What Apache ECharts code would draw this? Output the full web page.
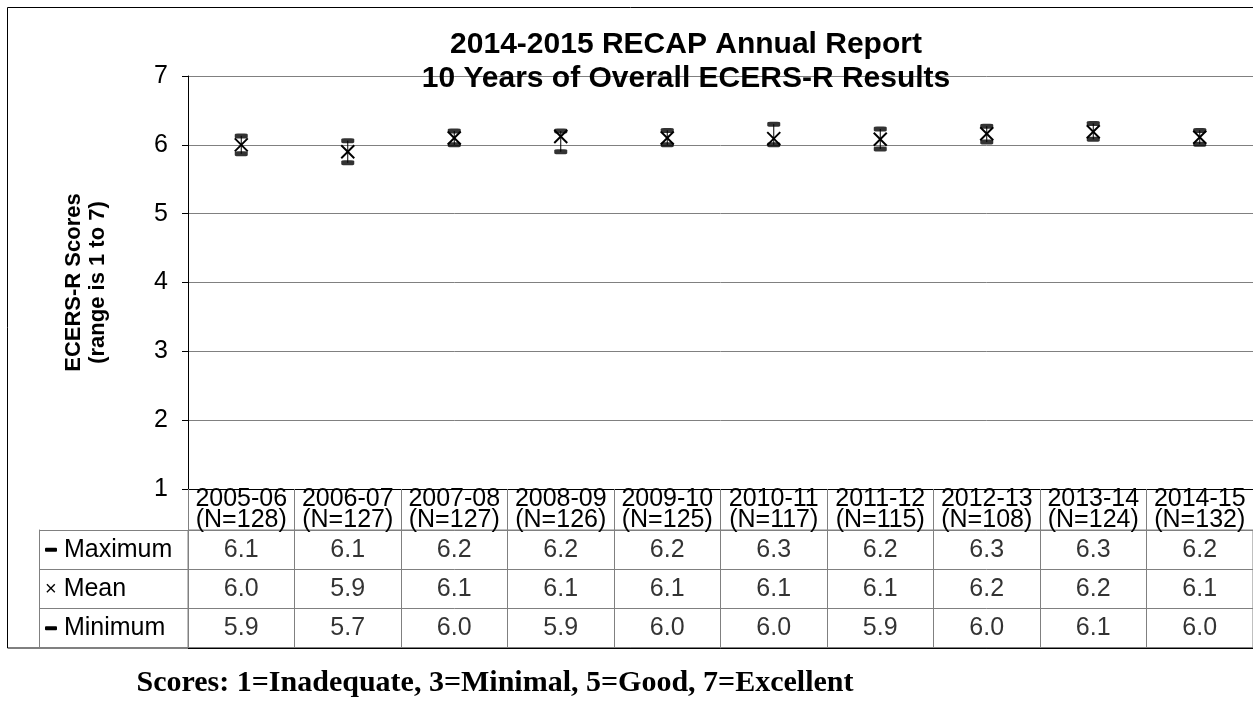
<!DOCTYPE html>
<html>
<head>
<meta charset="utf-8">
<script src="https://cdn.jsdelivr.net/npm/echarts@6/dist/echarts.min.js"></script>
<style>
  html, body { margin: 0; padding: 0; background: #fff; }
  #chart { width: 1253px; height: 709px; }
</style>
</head>
<body>
<div id="chart"></div>
<script>
// school years and sample sizes
const years = ['2005-06', '2006-07', '2007-08', '2008-09', '2009-10', '2010-11', '2011-12', '2012-13', '2013-14', '2014-15']
const nCounts = [128, 127, 127, 126, 125, 117, 115, 108, 124, 132]
// overall ECERS-R scores (table shows them to one decimal)
const maxScores = [6.13, 6.06, 6.2, 6.2, 6.21, 6.3, 6.23, 6.27, 6.31, 6.21]
const meanScores = [6.0, 5.9, 6.1, 6.12, 6.1, 6.09, 6.08, 6.16, 6.19, 6.11]
const minScores = [5.87, 5.74, 6.0, 5.9, 6.0, 6.0, 5.94, 6.04, 6.08, 6.01]
const rowNames = ['Maximum', 'Mean', 'Minimum']
const yTicks = [1, 7, 1] // min, max, step

const FONT = 'Liberation Sans'
const tableLine = '#808080'
const TXT = 25

const chart = echarts.init(document.getElementById('chart'))

const xLabels = years.map((y, i) => y + '\n(N=' + nCounts[i] + ')')
const rowValues = [maxScores, meanScores, minScores]
const tableData = []
rowValues.forEach((vals, r) => {
  vals.forEach((v, i) => {
    tableData.push([i, r, v.toFixed(1)])
  })
})

const option = {
  animation: false,
  backgroundColor: '#fff',
  textStyle: { fontFamily: FONT, color: '#000' },
  grid: [
    { left: 188, right: 0, top: 76, height: 413 },
    {
      left: 188, right: 0, top: 530, height: 118,
      show: true, borderColor: tableLine, borderWidth: 1, backgroundColor: 'transparent'
    }
  ],
  xAxis: [
    {
      gridIndex: 0,
      type: 'category',
      data: xLabels,
      boundaryGap: true,
      axisLine: { lineStyle: { color: '#000', width: 1 } },
      axisTick: { show: true, length: 41, lineStyle: { color: tableLine } },
      axisLabel: {
        interval: 0, margin: 0, fontSize: TXT, lineHeight: 21,
        color: '#000', fontFamily: FONT
      },
      splitLine: { show: false }
    },
    {
      gridIndex: 1,
      type: 'category',
      data: years,
      boundaryGap: true,
      axisLine: { show: true, lineStyle: { color: '#000' } },
      axisTick: { show: false },
      axisLabel: { show: false },
      splitLine: { show: true, interval: 0, lineStyle: { color: tableLine } }
    }
  ],
  yAxis: [
    {
      gridIndex: 0,
      type: 'value',
      min: yTicks[0],
      max: yTicks[1],
      interval: yTicks[2],
      name: 'ECERS-R Scores\n(range is 1 to 7)',
      nameLocation: 'middle',
      nameGap: 78,
      nameRotate: 90,
      nameTextStyle: { fontSize: 22, fontWeight: 'bold', lineHeight: 24, color: '#000', fontFamily: FONT },
      axisLine: { show: true, lineStyle: { color: '#000' } },
      axisTick: { show: true, length: 6, lineStyle: { color: '#000' } },
      axisLabel: { fontSize: TXT, margin: 20, color: '#000', fontFamily: FONT },
      splitLine: { show: true, lineStyle: { color: '#808080', width: 1 } }
    },
    {
      gridIndex: 1,
      type: 'category',
      data: rowNames,
      inverse: true,
      boundaryGap: true,
      axisLine: { show: true, lineStyle: { color: tableLine } },
      axisTick: { show: true, length: 149, lineStyle: { color: tableLine } },
      axisLabel: {
        margin: 143,
        align: 'left',
        fontSize: TXT,
        color: '#000',
        fontFamily: FONT,
        formatter: (v) => (v === 'Mean' ? '{x|×}' : '{dash|}') + ' ' + v,
        rich: {
          dash: { width: 12, height: 4, backgroundColor: '#000', borderRadius: 1 },
          x: { fontSize: 20, fontFamily: FONT, color: '#000' }
        }
      },
      splitLine: { show: true, lineStyle: { color: tableLine } }
    },
    {
      gridIndex: 1,
      type: 'category',
      data: rowNames,
      inverse: true,
      position: 'left',
      offset: 149,
      axisLine: { show: true, lineStyle: { color: tableLine } },
      axisTick: { show: false },
      axisLabel: { show: false },
      splitLine: { show: false }
    }
  ],
  series: [
    {
      // high-low line
      type: 'custom',
      xAxisIndex: 0,
      yAxisIndex: 0,
      data: years.map((_, i) => [i, minScores[i], maxScores[i]]),
      encode: { x: 0, y: [1, 2] },
      renderItem: (params, api) => {
        const lo = api.coord([api.value(0), api.value(1)])
        const hi = api.coord([api.value(0), api.value(2)])
        return {
          type: 'line',
          shape: { x1: lo[0], y1: lo[1], x2: hi[0], y2: hi[1] },
          style: { stroke: '#000', lineWidth: 1 }
        }
      },
      z: 2
    },
    {
      name: 'Maximum',
      type: 'scatter',
      xAxisIndex: 0,
      yAxisIndex: 0,
      data: maxScores,
      symbol: 'roundRect',
      symbolSize: [13, 5],
      itemStyle: { color: '#000' },
      z: 3
    },
    {
      name: 'Minimum',
      type: 'scatter',
      xAxisIndex: 0,
      yAxisIndex: 0,
      data: minScores,
      symbol: 'roundRect',
      symbolSize: [13, 5],
      itemStyle: { color: '#000' },
      z: 3
    },
    {
      name: 'Mean',
      type: 'custom',
      xAxisIndex: 0,
      yAxisIndex: 0,
      data: meanScores.map((v, i) => [i, v]),
      encode: { x: 0, y: 1 },
      renderItem: (params, api) => {
        const p = api.coord([api.value(0), api.value(1)])
        const h = 6.5
        return {
          type: 'group',
          children: [
            { type: 'line', shape: { x1: p[0] - h, y1: p[1] - h, x2: p[0] + h, y2: p[1] + h }, style: { stroke: '#000', lineWidth: 2 } },
            { type: 'line', shape: { x1: p[0] - h, y1: p[1] + h, x2: p[0] + h, y2: p[1] - h }, style: { stroke: '#000', lineWidth: 2 } }
          ]
        }
      },
      z: 4
    },
    {
      // data table values
      type: 'scatter',
      xAxisIndex: 1,
      yAxisIndex: 1,
      data: tableData,
      symbolSize: 1,
      itemStyle: { color: 'rgba(0,0,0,0)' },
      label: {
        show: true,
        position: 'inside',
        fontSize: TXT,
        color: '#000',
        fontFamily: FONT,
        formatter: (p) => p.value[2]
      },
      silent: true
    }
  ],
  graphic: [
    {
      type: 'rect',
      shape: { x: 7.5, y: 7.5, width: 1246, height: 640.5 },
      style: { fill: 'none', stroke: '#000', lineWidth: 1 },
      z: -1
    },
    {
      type: 'text',
      x: 686,
      y: 28,
      style: {
        text: '2014-2015 RECAP Annual Report\n10 Years of Overall ECERS-R Results',
        textAlign: 'center',
        textVerticalAlign: 'top',
        font: 'bold 30px "Liberation Sans"',
        lineHeight: 34,
        fill: '#000'
      },
      z: 10
    },
    {
      type: 'text',
      x: 495,
      y: 683,
      style: {
        text: 'Scores: 1=Inadequate, 3=Minimal, 5=Good, 7=Excellent',
        textAlign: 'center',
        textVerticalAlign: 'middle',
        font: 'bold 30px "Liberation Serif"',
        fill: '#000'
      }
    }
  ]
}

chart.setOption(option)
</script>
</body>
</html>
